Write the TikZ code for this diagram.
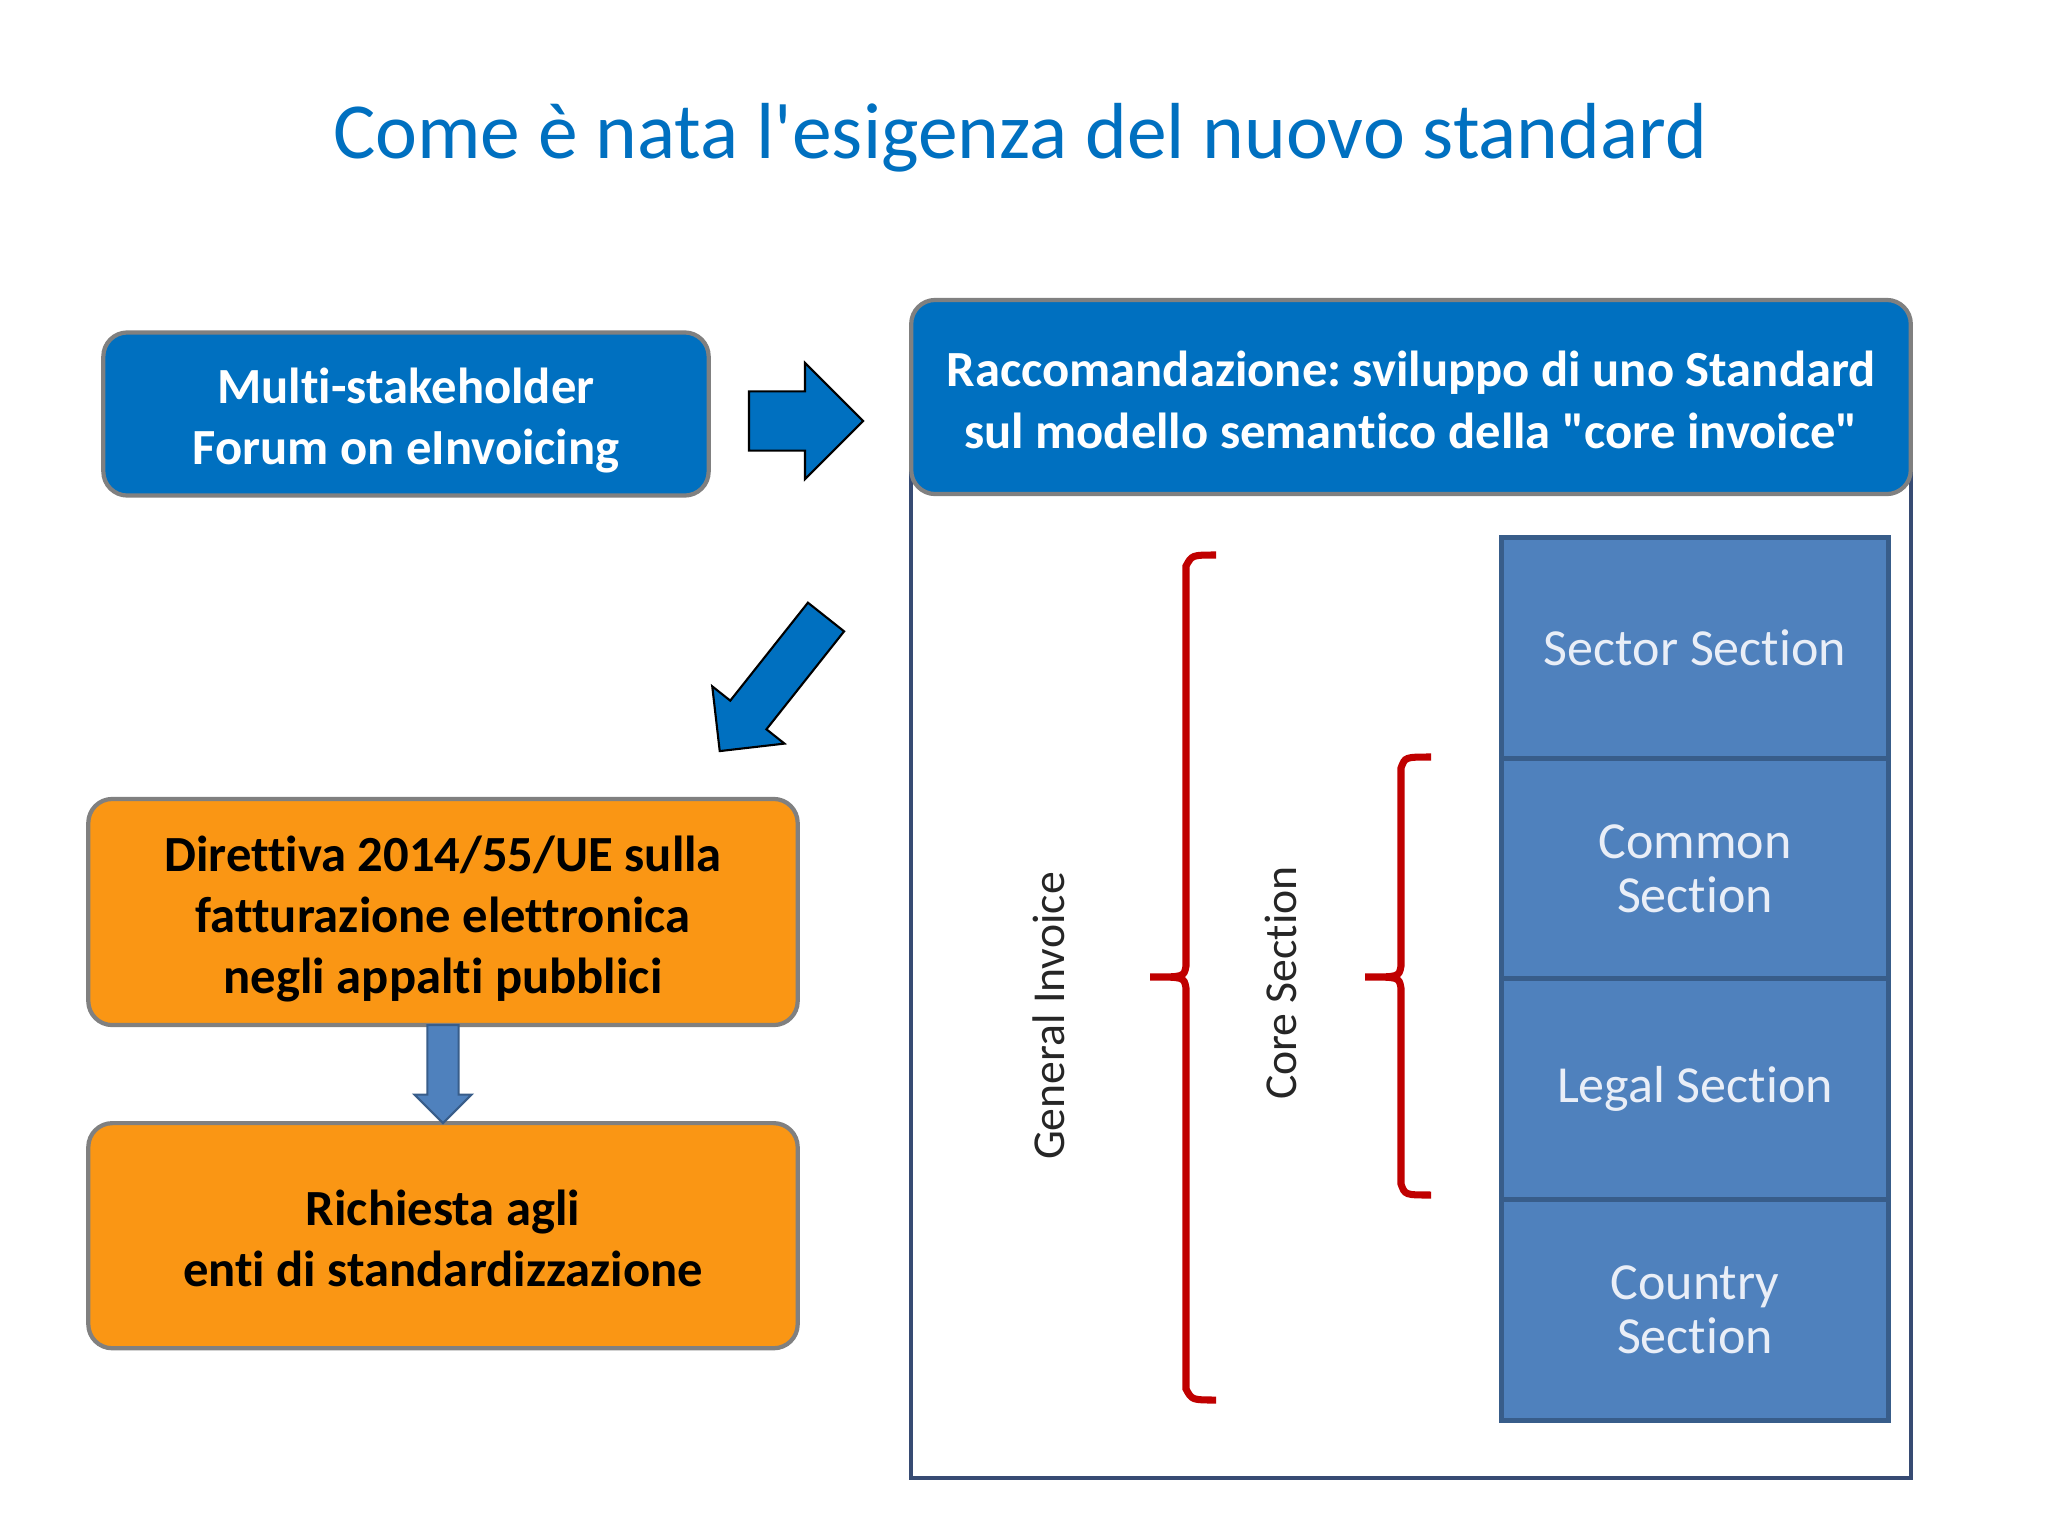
\documentclass[tikz,border=0pt]{standalone}
\usepackage{fontspec}
\setmainfont{Carlito}[Ligatures={TeXOff,CommonOff}]
\usepackage{graphicx}
\usetikzlibrary{shapes.arrows,positioning,calc,backgrounds}
\frenchspacing

\definecolor{titleblue}{RGB}{0,112,192}
\definecolor{boxblue}{RGB}{0,112,192}
\definecolor{boxorange}{RGB}{250,150,20}
\definecolor{edgegray}{RGB}{128,128,128}
\definecolor{secblue}{RGB}{79,129,189}
\definecolor{secedge}{RGB}{56,93,138}
\definecolor{secwhite}{RGB}{233,238,247}
\definecolor{framecol}{RGB}{55,75,115}
\definecolor{bracketred}{RGB}{192,0,0}

\newcommand{\boxstrut}{\rule{0pt}{14pt}}
\newcommand{\halfstrut}{\rule{0pt}{11.8pt}}

\begin{document}
\begin{tikzpicture}[
        x=0.01cm, y=-0.01cm,
        every node/.style={inner sep=0, outer sep=0},
        box/.style={draw=edgegray, line width=1.2pt, rounded corners=0.24cm, align=center,
            font=\fontsize{14.4}{17.4}\selectfont\bfseries},
        bluebox/.style={box, fill=boxblue, text=white},
        orangebox/.style={box, fill=boxorange, text=black},
        section/.style={draw=secedge, line width=1.4pt, fill=secblue, minimum width=3.86cm,
            minimum height=2.205cm, align=center, text=secwhite, font=\fontsize{14.8}{15.2}\selectfont},
        blockarrow/.style={single arrow, single arrow tip angle=90, inner xsep=0, anchor=tail,
            draw=black, line width=0.6pt, fill=boxblue},
        sidelabel/.style={rotate=90, text=black!85, font=\fontsize{13}{15}\selectfont},
        bracket/.style={draw=bracketred, line width=2pt},
    ]
    \begin{scope}[on background layer]
        \path[use as bounding box, fill=white] (0,0) rectangle (2048,1536);
    \end{scope}

    \node[text=titleblue, font=\fontsize{22.6}{27}\selectfont] (title) at (1020,138)
        {Come è nata l'esigenza del nuovo standard};

    % left column
    \node[bluebox, minimum width=6.05cm, minimum height=1.63cm] (forum) at (406,414)
        {\boxstrut Multi-stakeholder\\Forum on eInvoicing};
    \node[orangebox, minimum width=7.09cm, minimum height=2.26cm] (direttiva) at (443,912)
        {\boxstrut Direttiva 2014/55/UE sulla\\fatturazione elettronica\\negli appalti pubblici};
    \node[orangebox, minimum width=7.09cm, minimum height=2.25cm, below=0.98cm of direttiva] (richiesta)
        {\halfstrut Richiesta agli\\enti di standardizzazione};

    % right panel
    \node[bluebox, minimum width=9.99cm, minimum height=1.94cm] (raccom) at (1411,397)
        {\halfstrut Raccomandazione: sviluppo di uno Standard\\sul modello semantico della "core invoice"};
    \coordinate (framebot) at (0,1478);
    \begin{scope}[on background layer]
        \draw[framecol, line width=1pt] (raccom.west) -- (raccom.west |- framebot) -| (raccom.east);
    \end{scope}

    \node[section] (sector) at (1695,648) {Sector Section};
    \node[section, below=0 of sector] (common) {Common\\Section};
    \node[section, below=0 of common] (legal) {Legal Section};
    \node[section, below=0 of legal] (country) {Country\\Section};

    \node[sidelabel] (geninv) at (1049,1016) {General Invoice};
    \node[sidelabel] (coresec) at (1281,983) {Core Section};

    \draw[bracket] (1216,555) .. controls (1192,555) .. (1186,566) -- (1186,966)
        .. controls (1184,977) .. (1150,977) .. controls (1184,977) .. (1186,988)
        -- (1186,1389) .. controls (1192,1400) .. (1216,1400);
    \draw[bracket] (1431,757) .. controls (1405,757) .. (1401,768) -- (1401,966)
        .. controls (1399,977) .. (1365,977) .. controls (1399,977) .. (1401,988)
        -- (1401,1184) .. controls (1405,1195) .. (1431,1195);

    % arrows
    \node[blockarrow, minimum height=1.14cm, inner ysep=0.285cm, single arrow head extend=0.285cm]
        (toraccom) at (749,421) {};
    \node[blockarrow, rotate=231.6, minimum height=1.71cm, inner ysep=0.22cm, single arrow head extend=0.23cm]
        (todirettiva) at (826,617) {};
    \node[blockarrow, fill=secblue, draw=secedge, rotate=-90, minimum height=0.98cm, inner ysep=0.145cm,
        single arrow head extend=0.13cm] (torichiesta) at (direttiva.south) {};
\end{tikzpicture}
\end{document}
